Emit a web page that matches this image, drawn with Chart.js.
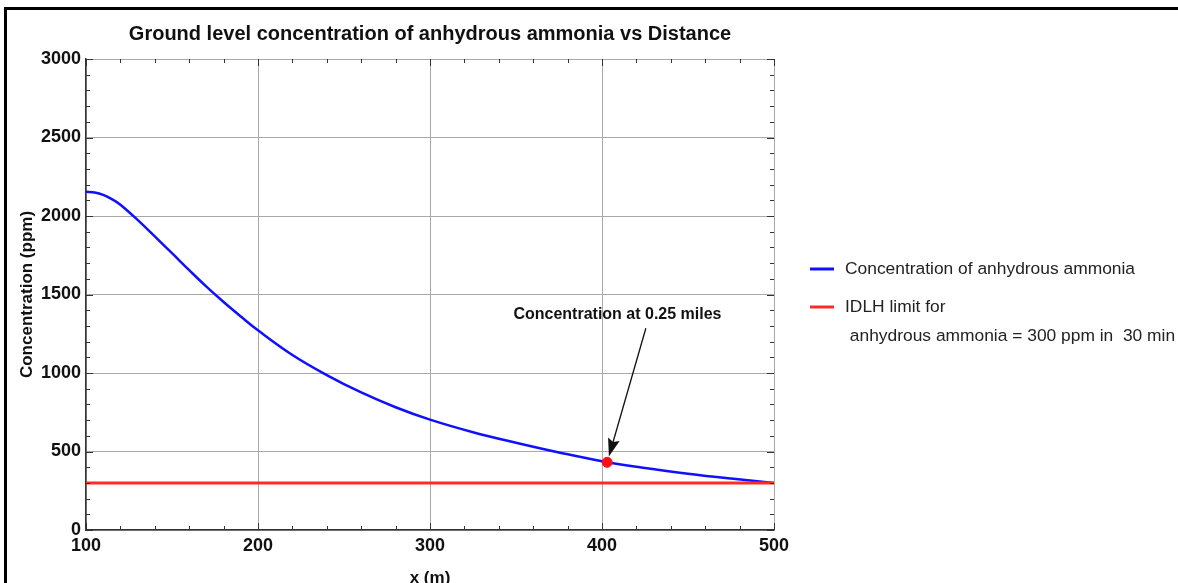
<!DOCTYPE html>
<html>
<head>
<meta charset="utf-8">
<script src="https://cdn.jsdelivr.net/npm/chart.js@4.4.0/dist/chart.umd.min.js"></script>
<style>
  html, body { margin: 0; padding: 0; background: #fff; }
  #wrap { position: relative; width: 1178px; height: 583px; overflow: hidden; }
  #frame { position: absolute; left: 4px; top: 7px; width: 1200px; height: 600px;
           border-left: 3px solid #000; border-top: 3px solid #000; }
  canvas { position: absolute; left: 0; top: 0; }
</style>
</head>
<body>
<div id="wrap">
  <div id="frame"></div>
  <canvas id="myChart" width="1178" height="583"></canvas>
</div>
<script>
// distancia (m) y concentracion (ppm)
const distancias = [100, 105, 110, 115, 120, 130, 140, 150, 160, 170, 180, 190, 200, 220, 240, 260, 280, 300, 325, 350, 375, 400, 425, 450, 475, 500];
const concentracion = [2155, 2150, 2135, 2108, 2072, 1975, 1870, 1763, 1655, 1550, 1452, 1360, 1272, 1115, 987, 876, 782, 703, 623, 556, 494, 438, 395, 359, 328, 300];

const limiteX = [100, 500];
const limiteIDLH = [300, 300];

const puntoX = [403];
const puntoY = [431];

const ticksX = [100, 200, 300, 400, 500];
const ticksY = [0, 500, 1000, 1500, 2000, 2500, 3000];

// anotacion (en unidades de datos)
const notaTexto = "Concentration at 0.25 miles";
const notaPos = { x: 409, y: 1370 };
const flechaDesde = { x: 425.5, y: 1285 };
const flechaHasta = { x: 404, y: 468 };

const tituloGrafico = "Ground level concentration of anhydrous ammonia vs Distance";
const leyenda = [
  { color: "#1010ff", lineas: ["Concentration of anhydrous ammonia"] },
  { color: "#ff2a2a", lineas: ["IDLH limit for", " anhydrous ammonia = 300 ppm in  30 min"] },
];

const FUENTE = "'Liberation Sans', Arial, sans-serif";

const toPts = (xs, ys) => xs.map((x, i) => ({ x, y: ys[i] }));

// ticks menores hacia adentro, titulo, anotacion y leyenda
const extras = {
  id: "extras",
  afterDraw(chart) {
    const { ctx, chartArea, scales } = chart;
    const sx = scales.x, sy = scales.y;
    ctx.save();
    ctx.strokeStyle = "#333";
    ctx.lineWidth = 1;
    ctx.beginPath();
    for (let v = 100; v <= 500; v += 20) {
      const px = Math.round(sx.getPixelForValue(v)) + 0.5;
      const len = v % 100 === 0 ? 7 : 4;
      ctx.moveTo(px, chartArea.bottom); ctx.lineTo(px, chartArea.bottom - len);
      ctx.moveTo(px, chartArea.top); ctx.lineTo(px, chartArea.top + len);
    }
    for (let v = 0; v <= 3000; v += 100) {
      const py = Math.round(sy.getPixelForValue(v)) + 0.5;
      const len = v % 500 === 0 ? 7 : 4;
      ctx.moveTo(chartArea.left, py); ctx.lineTo(chartArea.left + len, py);
      ctx.moveTo(chartArea.right, py); ctx.lineTo(chartArea.right - len, py);
    }
    ctx.stroke();

    // titulo
    ctx.fillStyle = "#111";
    ctx.font = "bold 20px " + FUENTE;
    ctx.textAlign = "center";
    ctx.textBaseline = "middle";
    ctx.fillText(tituloGrafico, (chartArea.left + chartArea.right) / 2, 34);

    // anotacion
    ctx.font = "bold 16px " + FUENTE;
    ctx.fillText(notaTexto, sx.getPixelForValue(notaPos.x), sy.getPixelForValue(notaPos.y));
    const x1 = sx.getPixelForValue(flechaDesde.x), y1 = sy.getPixelForValue(flechaDesde.y);
    const x2 = sx.getPixelForValue(flechaHasta.x), y2 = sy.getPixelForValue(flechaHasta.y);
    const ang = Math.atan2(y2 - y1, x2 - x1);
    const c = Math.cos(ang), s = Math.sin(ang);
    ctx.strokeStyle = "#111";
    ctx.lineWidth = 1.3;
    ctx.beginPath();
    ctx.moveTo(x1, y1);
    ctx.lineTo(x2 - 12 * c, y2 - 12 * s);
    ctx.stroke();
    ctx.beginPath();
    ctx.moveTo(x2, y2);
    ctx.lineTo(x2 - 18 * c + 6 * s, y2 - 18 * s - 6 * c);
    ctx.lineTo(x2 - 15 * c, y2 - 15 * s);
    ctx.lineTo(x2 - 18 * c - 6 * s, y2 - 18 * s + 6 * c);
    ctx.closePath();
    ctx.fillStyle = "#111";
    ctx.fill();

    // leyenda
    ctx.font = "17.4px " + FUENTE;
    ctx.textAlign = "left";
    let y = 269;
    const lx = chartArea.right + 36;
    leyenda.forEach((item) => {
      ctx.strokeStyle = item.color;
      ctx.lineWidth = 3;
      ctx.beginPath();
      ctx.moveTo(lx, y); ctx.lineTo(lx + 24, y);
      ctx.stroke();
      ctx.fillStyle = "#222";
      item.lineas.forEach((t, i) => {
        ctx.fillText(t, lx + 35, y + i * 29);
      });
      y += 38;
    });
    ctx.restore();
  },
};

new Chart(document.getElementById("myChart"), {
  type: "line",
  data: {
    datasets: [
      {
        label: "Concentration at 0.25 miles",
        data: toPts(puntoX, puntoY),
        showLine: false,
        pointRadius: 5,
        pointBackgroundColor: "#ff1010",
        pointBorderColor: "#ff1010",
        order: 0,
      },
      {
        label: "Concentration of anhydrous ammonia",
        data: toPts(distancias, concentracion),
        borderColor: "#1010ff",
        borderWidth: 2.5,
        pointRadius: 0,
        tension: 0.4,
        order: 2,
      },
      {
        label: "IDLH limit",
        data: toPts(limiteX, limiteIDLH),
        borderColor: "#ff2a2a",
        borderWidth: 3,
        pointRadius: 0,
        order: 1,
      },
    ],
  },
  options: {
    responsive: false,
    animation: false,
    layout: { padding: { left: 0, right: 404, top: 59, bottom: -4 } },
    plugins: { legend: { display: false }, title: { display: false }, tooltip: { enabled: false } },
    scales: {
      x: {
        type: "linear",
        min: 100,
        max: 500,
        afterBuildTicks: (s) => { s.ticks = ticksX.map((v) => ({ value: v })); },
        afterFit: (s) => { s.height = 57; },
        grid: { color: "#a8a8a8", lineWidth: 1, drawTicks: false },
        border: { color: "#333", width: 1.5 },
        ticks: { color: "#111", padding: 5, callback: (v) => String(v),
                 font: { family: FUENTE, size: 18, weight: "bold" } },
        title: { display: true, text: "x (m)", color: "#111", padding: { top: 0, bottom: 0 },
                 font: { family: FUENTE, size: 17, weight: "bold", lineHeight: 1 } },
      },
      y: {
        min: 0,
        max: 3000,
        afterBuildTicks: (s) => { s.ticks = ticksY.map((v) => ({ value: v })); },
        afterFit: (s) => { s.width = 86; },
        grid: { color: "#a8a8a8", lineWidth: 1, drawTicks: false },
        border: { color: "#333", width: 1.5 },
        ticks: { color: "#111", padding: 5, callback: (v) => String(v),
                 font: { family: FUENTE, size: 18, weight: "bold" } },
        title: { display: true, text: "Concentration (ppm)", color: "#111", padding: { top: 17, bottom: 0 },
                 font: { family: FUENTE, size: 17, weight: "bold", lineHeight: 1.2 } },
      },
    },
  },
  plugins: [extras],
});
</script>
</body>
</html>
